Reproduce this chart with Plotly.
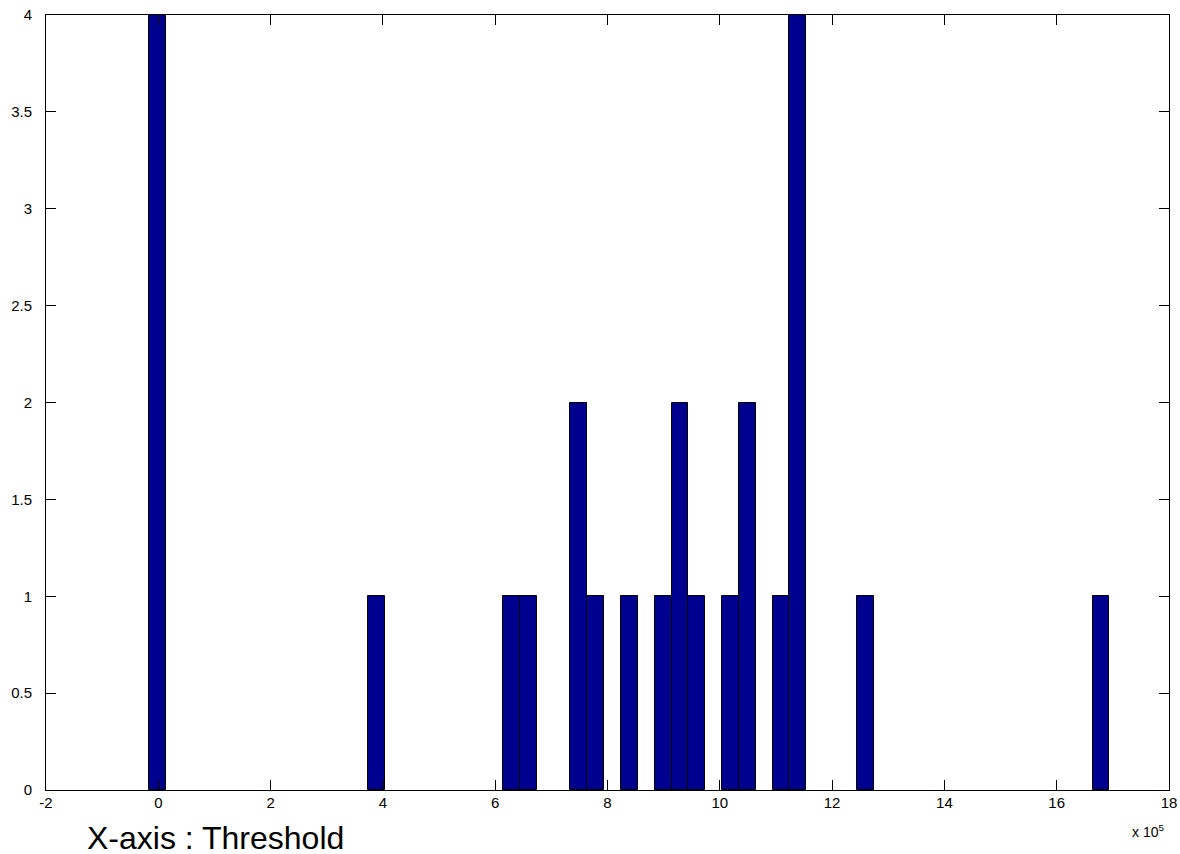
import plotly.graph_objects as go

# Histogram bin centres (in units of 10^5) and counts
bin_centers = [-0.01, 3.89, 6.29, 6.59, 7.49, 7.79, 8.39, 8.99, 9.29, 9.59,
               10.19, 10.49, 11.09, 11.39, 12.59, 16.79]
counts = [4, 1, 1, 1, 2, 1, 1, 1, 2, 1, 1, 2, 1, 4, 1, 1]
bin_width = 0.3

x_ticks = [-2, 0, 2, 4, 6, 8, 10, 12, 14, 16, 18]
y_ticks = [0, 0.5, 1, 1.5, 2, 2.5, 3, 3.5, 4]
y_tick_text = ["0", "0.5", "1", "1.5", "2", "2.5", "3", "3.5", "4"]

W, H = 1180, 854
ML, MT = 46, 15
PLOT_W, PLOT_H = 1123, 775
MR = W - ML - PLOT_W
MB = H - MT - PLOT_H

fig = go.Figure()
fig.add_trace(go.Bar(
    x=bin_centers, y=counts, width=bin_width,
    marker=dict(color="rgb(0,0,143)", line=dict(color="black", width=1)),
    showlegend=False, hoverinfo="x+y",
))

fig.update_layout(
    width=W, height=H,
    margin=dict(l=ML, r=MR, t=MT, b=MB, pad=0, autoexpand=False),
    paper_bgcolor="white", plot_bgcolor="white",
    font=dict(family="Liberation Sans, Arial, sans-serif", size=15, color="black"),
    bargap=0,
)
fig.update_xaxes(
    range=[-2, 18], tickmode="array", tickvals=x_ticks,
    ticktext=[str(v) for v in x_ticks],
    showgrid=False, zeroline=False, showline=True, linecolor="black", linewidth=1,
    mirror="allticks", ticks="inside", ticklen=10, tickcolor="black",
    ticklabelstandoff=-1, ticklabeloverflow="allow", automargin=False,
)
fig.update_yaxes(
    range=[0, 4], tickmode="array", tickvals=y_ticks, ticktext=y_tick_text,
    showgrid=False, zeroline=False, showline=True, linecolor="black", linewidth=1,
    mirror="allticks", ticks="inside", ticklen=10, tickcolor="black",
    ticklabelstandoff=10, ticklabeloverflow="allow", automargin=False,
)

def px_to_paper_y(py):
    return 1 - (py - MT) / PLOT_H

def px_to_paper_x(px):
    return (px - ML) / PLOT_W

fig.add_annotation(
    text="X-axis : Threshold", xref="paper", yref="paper",
    x=px_to_paper_x(85), y=px_to_paper_y(818), xanchor="left", yanchor="top",
    showarrow=False, font=dict(size=32),
)
fig.add_annotation(
    text="x 10<sup>5</sup>", xref="paper", yref="paper",
    x=px_to_paper_x(1166), y=px_to_paper_y(831), xanchor="right", yanchor="middle",
    showarrow=False, font=dict(size=14),
)

fig.write_html(
    "out.html",
    config={"displayModeBar": False},
    post_script="document.body.style.margin='0';document.body.style.overflow='hidden';",
)
